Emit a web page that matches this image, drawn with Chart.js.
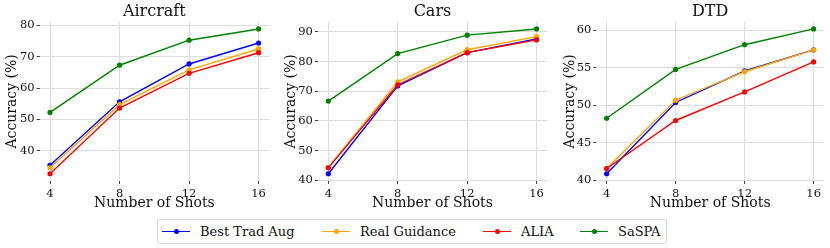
<!DOCTYPE html>
<html>
<head>
<meta charset="utf-8">
<script src="https://cdn.jsdelivr.net/npm/chart.js@4.4.0/dist/chart.umd.min.js"></script>
<style>
  body { margin: 0; background: #fff; width: 830px; height: 248px; position: relative; overflow: hidden; }
  canvas { position: absolute; top: 0; }
  #legend { position: absolute; left: 157px; top: 219px; width: 508px; height: 23px; border: 1px solid #d6d6d6; border-radius: 3px;
            font-family: "DejaVu Serif", serif; font-size: 13px; color: #111; }
  .item { position: absolute; top: 0; height: 23px; line-height: 23px; white-space: nowrap; }
  .ln { position: absolute; top: 11px; height: 1.4px; width: 28px; }
  .dot { position: absolute; top: 9px; left: 11.5px; width: 5px; height: 5px; border-radius: 50%; }
</style>
</head>
<body>
<canvas id="c1"></canvas>
<canvas id="c2"></canvas>
<canvas id="c3"></canvas>
<div id="legend"></div>
<script>
let shots = [4, 8, 12, 16];
let seriesNames = ["Best Trad Aug", "Real Guidance", "ALIA", "SaSPA"];
let seriesColors = ["#0000ff", "#ffa500", "#ff0000", "#008000"];

let aircraftTrad = [35.3, 55.6, 67.7, 74.4];
let aircraftReal = [34.5, 54.7, 65.8, 72.5];
let aircraftAlia = [32.6, 53.6, 64.7, 71.3];
let aircraftSaspa = [52.2, 67.3, 75.3, 78.9];
let aircraftTicks = [40, 50, 60, 70, 80];

let carsTrad = [42.2, 71.8, 83.0, 87.6];
let carsReal = [44.3, 73.2, 84.0, 88.4];
let carsAlia = [44.2, 72.2, 83.0, 87.3];
let carsSaspa = [66.7, 82.7, 88.9, 91.0];
let carsTicks = [40, 50, 60, 70, 80, 90];

let dtdTrad = [40.9, 50.4, 54.6, 57.4];
let dtdReal = [41.6, 50.7, 54.5, 57.4];
let dtdAlia = [41.6, 48.0, 51.8, 55.8];
let dtdSaspa = [48.3, 54.8, 58.1, 60.2];
let dtdTicks = [40, 45, 50, 55, 60];

const serif = "'DejaVu Serif', serif";

function pad(arr) {
    let lo = Math.min(...arr), hi = Math.max(...arr);
    let m = (hi - lo) * 0.05;
    return [lo - m, hi + m];
}

function graph(id, left, width, yWidth, title, sets, yTicks) {
    let canvas = document.getElementById(id);
    canvas.style.left = left + "px";
    canvas.width = width;
    canvas.height = 212;
    canvas.style.width = width + "px";
    canvas.style.height = "212px";

    let all = [].concat(...sets);
    let [ymin, ymax] = pad(all);

    let datasets = sets.map((vals, i) => ({
        label: seriesNames[i],
        data: vals.map((v, j) => ({x: shots[j], y: v})),
        borderColor: seriesColors[i],
        backgroundColor: seriesColors[i],
        borderWidth: 1.4,
        pointRadius: 2.6,
        pointBorderWidth: 0,
        order: sets.length - i,
        tension: 0
    }));

    new Chart(canvas, {
        type: 'line',
        data: { datasets: datasets },
        options: {
            responsive: false,
            animation: false,
            devicePixelRatio: 1,
            layout: { padding: { left: 0, right: 6, top: 0, bottom: 0 } },
            plugins: {
                legend: { display: false },
                tooltip: { enabled: false },
                title: {
                    display: true,
                    fullSize: false,
                    text: title,
                    color: '#111',
                    font: { family: serif, size: 16, weight: 'normal' },
                    padding: { top: 2.5, bottom: 0 }
                }
            },
            scales: {
                x: {
                    type: 'linear',
                    min: 3.4, max: 16.6,
                    afterBuildTicks: s => { s.ticks = shots.map(v => ({value: v})); },
                    afterFit: s => { s.height = 31; },
                    grid: { color: '#dddddd', tickColor: '#444', tickLength: 3, lineWidth: 1 },
                    border: { display: false },
                    ticks: { color: '#111', font: { family: serif, size: 11.5 }, padding: 3, maxRotation: 0 },
                    title: {
                        display: true,
                        text: 'Number of Shots',
                        color: '#111',
                        font: { family: serif, size: 14 },
                        padding: { top: 0, bottom: 0 }
                    }
                },
                y: {
                    min: ymin, max: ymax,
                    afterBuildTicks: s => { s.ticks = yTicks.map(v => ({value: v})); },
                    afterFit: s => { s.width = yWidth; },
                    grid: { color: '#dddddd', tickColor: '#444', tickLength: 3, lineWidth: 1 },
                    border: { display: false },
                    ticks: { color: '#111', font: { family: serif, size: 11.5 }, padding: 2 },
                    title: {
                        display: true,
                        text: 'Accuracy (%)',
                        color: '#111',
                        font: { family: serif, size: 14 },
                        padding: { top: 3.5, bottom: 4 }
                    }
                }
            }
        }
    });
}

graph("c1", 0, 275, 39.6, "Aircraft", [aircraftTrad, aircraftReal, aircraftAlia, aircraftSaspa], aircraftTicks);
graph("c2", 279, 274, 38.9, "Cars", [carsTrad, carsReal, carsAlia, carsSaspa], carsTicks);
graph("c3", 558, 272, 38.3, "DTD", [dtdTrad, dtdReal, dtdAlia, dtdSaspa], dtdTicks);

// legend
let legendX = [4, 164, 325, 422];
let legend = document.getElementById("legend");
seriesNames.forEach((name, i) => {
    let item = document.createElement("div");
    item.className = "item";
    item.style.left = legendX[i] + "px";
    item.innerHTML = '<span class="ln" style="left:0;background:' + seriesColors[i] + '"></span>' +
        '<span class="dot" style="background:' + seriesColors[i] + '"></span>' +
        '<span style="position:absolute;left:38px">' + name + '</span>';
    legend.appendChild(item);
});
</script>
</body>
</html>
